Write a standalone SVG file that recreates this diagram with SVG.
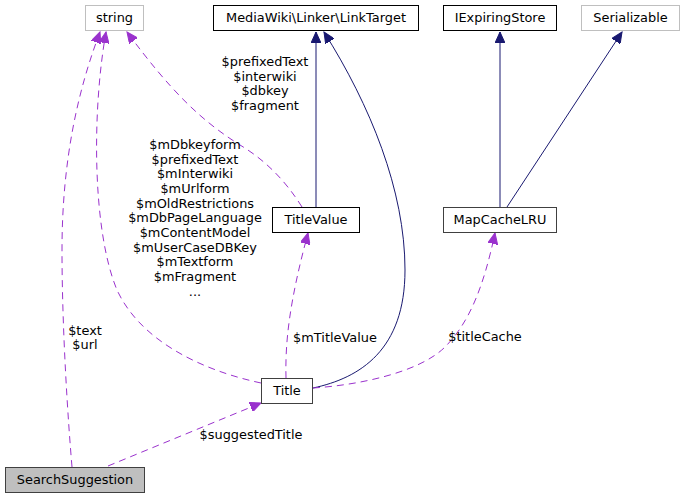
<svg xmlns="http://www.w3.org/2000/svg" width="685" height="499" viewBox="0 0 685 499">
<defs>
<style>
text{font-family:"DejaVu Sans","Liberation Sans",sans-serif;font-size:12.9px;fill:#000;text-anchor:middle}
.n{fill:#fff;stroke:#000;stroke-width:1}
.g{fill:#fff;stroke:#bfbfbf;stroke-width:1}
.d{fill:#fff;stroke:#404040;stroke-width:1}
.inh{fill:none;stroke:#191970;stroke-width:1}
.use{fill:none;stroke:#9a32cd;stroke-width:1;stroke-dasharray:7,5}
</style>
<marker id="ah" markerWidth="12" markerHeight="10" viewBox="0 0 12 10" refX="11" refY="5" orient="auto" markerUnits="userSpaceOnUse">
<path d="M0,0 L11,5 L0,10 Z" fill="#191970" stroke="#191970"/>
</marker>
<marker id="ap" markerWidth="12" markerHeight="10" viewBox="0 0 12 10" refX="11" refY="5" orient="auto" markerUnits="userSpaceOnUse">
<path d="M0,0 L11,5 L0,10 Z" fill="#9a32cd" stroke="#9a32cd"/>
</marker>
</defs>
<rect width="685" height="499" fill="#fff"/>
<g id="connectors">
<path class="inh" d="M316,207 L316,32" marker-end="url(#ah)"/>
<path class="inh" d="M313,388 C360,378 405,350 405,270 C405,190 370,105 324,32" marker-end="url(#ah)"/>
<path class="inh" d="M500,207 L500,32" marker-end="url(#ah)"/>
<path class="inh" d="M507,207 L622,32" marker-end="url(#ah)"/>
<path class="use" d="M313,388 C360,385 420,372 445,347 C470,322 484,285 495,233" marker-end="url(#ap)"/>
<path class="use" d="M286,378 C285,340 290,300 308,233" marker-end="url(#ap)"/>
<path class="use" d="M261,383 C200,370 140,340 117,290 C92,230 92,110 106,32" marker-end="url(#ap)"/>
<path class="use" d="M302,207 C285,180 265,160 240,145 C200,120 170,90 127,32" marker-end="url(#ap)"/>
<path class="use" d="M72,467 C68,420 62,330 62,250 C62,160 78,90 100,32" marker-end="url(#ap)"/>
<path class="use" d="M108,466 L261,403" marker-end="url(#ap)"/>
<text x="265" y="66">$prefixedText</text>
<text x="265" y="81">$interwiki</text>
<text x="265" y="95">$dbkey</text>
<text x="265" y="110">$fragment</text>
<text x="195" y="149">$mDbkeyform</text>
<text x="195" y="164">$prefixedText</text>
<text x="195" y="178">$mInterwiki</text>
<text x="195" y="193">$mUrlform</text>
<text x="195" y="208">$mOldRestrictions</text>
<text x="195" y="222">$mDbPageLanguage</text>
<text x="195" y="237">$mContentModel</text>
<text x="195" y="252">$mUserCaseDBKey</text>
<text x="195" y="266">$mTextform</text>
<text x="195" y="281">$mFragment</text>
<text x="195" y="296">...</text>
<text x="85" y="335">$text</text>
<text x="85" y="349">$url</text>
<text x="335" y="342">$mTitleValue</text>
<text x="485" y="341">$titleCache</text>
<text x="251" y="439">$suggestedTitle</text>
</g>
<g id="node-string"><rect class="g" x="85.5" y="5.5" width="58" height="25"/><text x="114.5" y="22">string</text></g>
<g id="node-linktarget"><rect class="n" x="213.5" y="5.5" width="205" height="25"/><text x="316" y="22">MediaWiki\Linker\LinkTarget</text></g>
<g id="node-iexpiringstore"><rect class="n" x="443.5" y="5.5" width="113" height="25"/><text x="500" y="22">IExpiringStore</text></g>
<g id="node-serializable"><rect class="g" x="581.5" y="5.5" width="98" height="25"/><text x="630.5" y="22">Serializable</text></g>
<g id="node-titlevalue"><rect class="n" x="272.5" y="207.5" width="87" height="25"/><text x="316" y="224">TitleValue</text></g>
<g id="node-mapcachelru"><rect class="d" x="443.5" y="207.5" width="113" height="25"/><text x="500" y="224">MapCacheLRU</text></g>
<g id="node-title"><rect class="d" x="261.5" y="378.5" width="51" height="25"/><text x="287" y="395">Title</text></g>
<g id="node-searchsuggestion"><rect x="5.5" y="467.5" width="139" height="25" fill="#bfbfbf" stroke="#404040"/><text x="75" y="484">SearchSuggestion</text></g>
</svg>
